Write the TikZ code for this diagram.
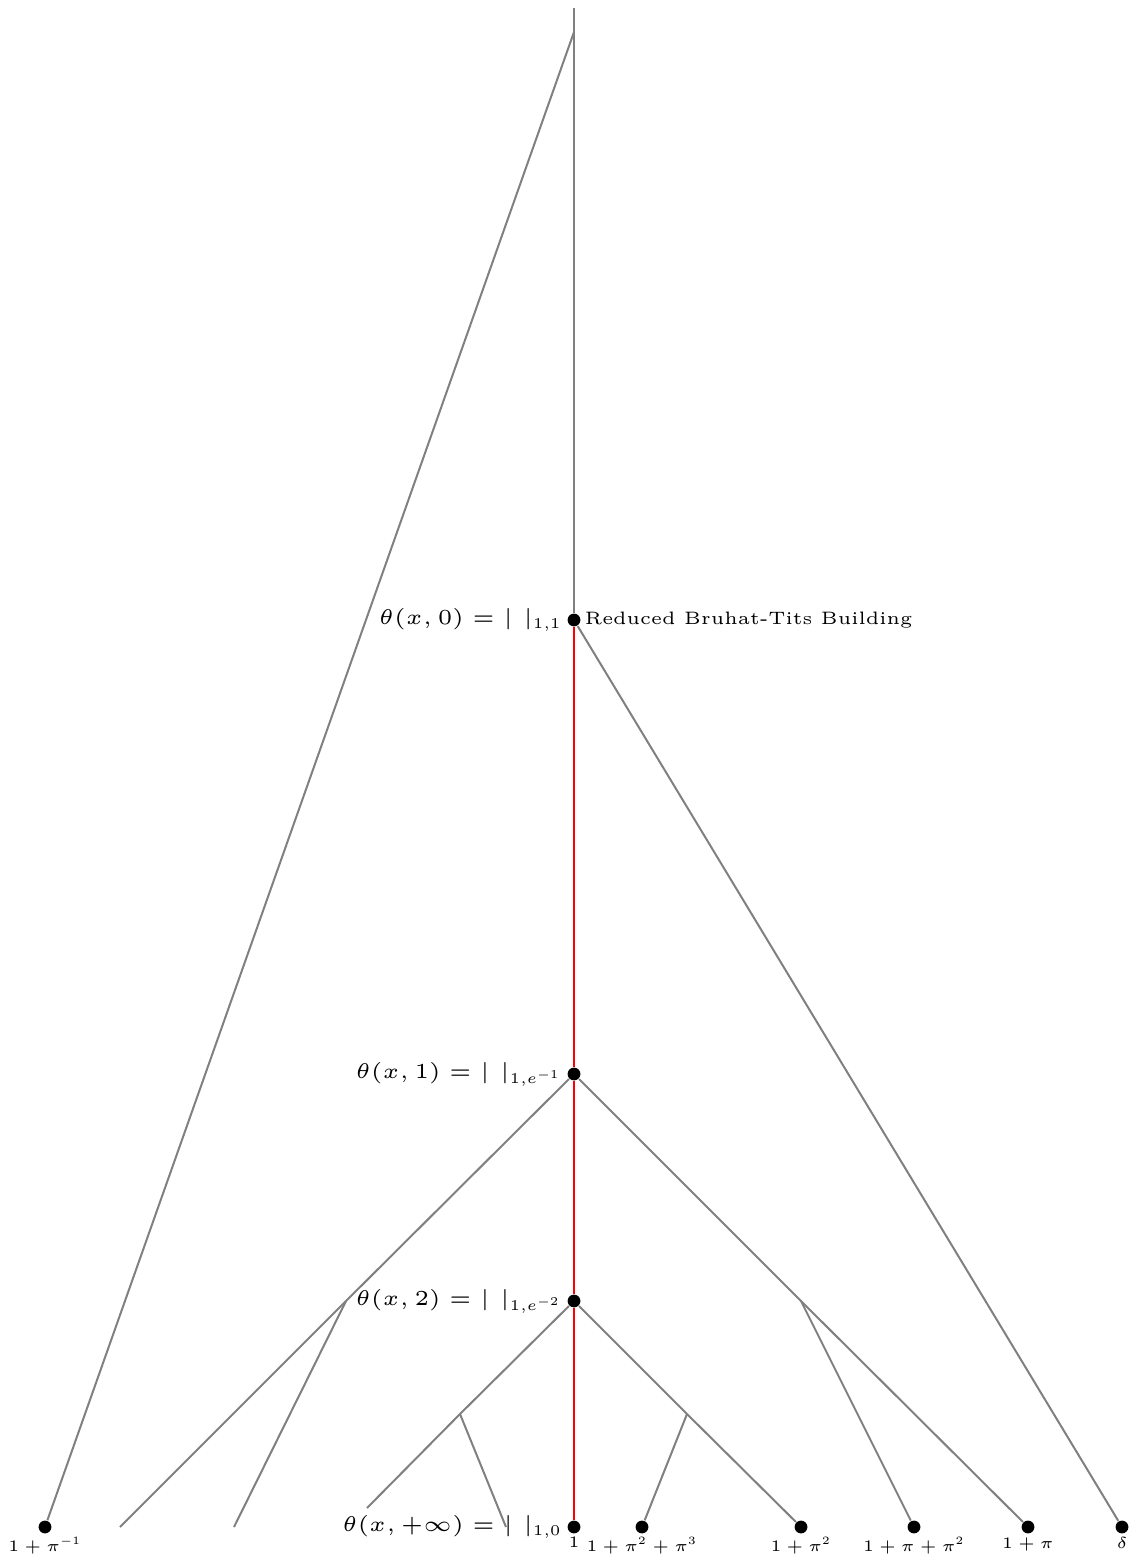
\RequirePackage{fix-cm}
\documentclass[tikz,border=0pt]{standalone}
\DeclareMathSizes{5}{5}{3.5}{2.8}
\begin{document}
\begin{tikzpicture}[x=0.25pt,y=-0.25pt,
  edge/.style={draw=gray, line width=0.5pt},
  redge/.style={draw=red, line width=0.5pt},
  dot/.style={circle, fill=black, inner sep=0pt, minimum size=3.2pt},
  biglab/.style={font=\fontsize{5}{6}\selectfont, scale=1.07, inner sep=0.8pt},
  midlab/.style={font=\fontsize{5}{6}\selectfont, scale=0.9, inner sep=0.8pt},
  leaflab/.style={font=\fontsize{5}{6}\selectfont, scale=0.8, inner sep=0.8pt, anchor=north}]
\useasboundingbox (0,0) rectangle (1144,1563);
\coordinate (T) at (574,8);
\coordinate (L0) at (574,32);
\node[dot] (A) at (574,620) {};
\node[dot] (B) at (574,1074) {};
\node[dot] (C) at (574,1301) {};
\coordinate (Bl) at (346,1301);
\coordinate (Br) at (801,1301);
\coordinate (Cl) at (460,1414);
\coordinate (Cr) at (687,1414);
\coordinate (Ce) at (367,1508);
\coordinate (E1) at (120,1527);
\coordinate (E2) at (234,1527);
\coordinate (E3) at (506,1527);
\node[dot] (p1) at (45,1527) {};
\node[dot] (p2) at (574,1527) {};
\node[dot] (p3) at (642,1527) {};
\node[dot] (p4) at (801,1527) {};
\node[dot] (p5) at (914,1527) {};
\node[dot] (p6) at (1028,1527) {};
\node[dot] (p7) at (1122,1527) {};
% gray tree
\draw[edge] (T) -- (A);
\draw[edge] (L0) -- (p1);
\draw[edge] (A) -- (p7);
\draw[edge] (B) -- (Bl) -- (E1);
\draw[edge] (Bl) -- (E2);
\draw[edge] (B) -- (Br) -- (p6);
\draw[edge] (Br) -- (p5);
\draw[edge] (C) -- (Cl) -- (Ce);
\draw[edge] (Cl) -- (E3);
\draw[edge] (C) -- (Cr) -- (p4);
\draw[edge] (Cr) -- (p3);
% red path
\draw[redge] (A) -- (B) -- (C) -- (p2);
% labels
\node[biglab, anchor=east] (lA) at (A.west) {$\theta(x,0) = |\ |_{1,1}$};
\node[midlab, anchor=west] (rA) at (A.east) {Reduced Bruhat-Tits Building};
\node[biglab, anchor=east] (lB) at (B.west) {$\theta(x,1) = |\ |_{1,e^{-1}}$};
\node[biglab, anchor=east] (lC) at (C.west) {$\theta(x,2) = |\ |_{1,e^{-2}}$};
\node[biglab, anchor=east] (lD) at (p2.west) {$\theta(x,+\infty) = |\ |_{1,0}$};
\node[leaflab] (t1) at (p1.south) {$1+\pi^{-1}$};
\node[leaflab] (t2) at (p2.south) {$1$};
\node[leaflab] (t3) at (p3.south) {$1+\pi^2+\pi^3$};
\node[leaflab] (t4) at (p4.south) {$1+\pi^2$};
\node[leaflab] (t5) at (p5.south) {$1+\pi+\pi^2$};
\node[leaflab] (t6) at (p6.south) {$1+\pi$};
\node[leaflab] (t7) at (p7.south) {$\delta$};
\end{tikzpicture}
\end{document}
